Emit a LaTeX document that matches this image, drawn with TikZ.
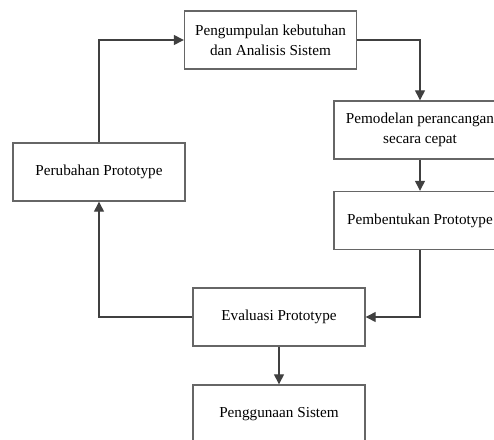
\documentclass[tikz,border=0pt]{standalone}
\usepackage{fontspec}
\setmainfont{Liberation Serif}
\usetikzlibrary{arrows.meta}
\begin{document}
\begin{tikzpicture}[x=1pt,y=-1pt,
  box/.style={draw=black!60,line width=1.4pt,minimum width=172pt,minimum height=58pt,inner sep=0pt,align=center,font=\fontsize{15.2}{20}\selectfont},
  arr/.style={draw=black!75,line width=1.3pt,-{Triangle[length=10pt,width=10pt]}}]
\useasboundingbox (0,0) rectangle (494,439);
\node[box] (A) at (270.5,40) {Pengumpulan kebutuhan\\dan Analisis Sistem};
\node[box] (B) at (420,130) {Pemodelan perancangan\\secara cepat};
\node[box] (C) at (420,220.5) {Pembentukan Prototype};
\node[box] (D) at (99,172) {Perubahan Prototype};
\node[box] (E) at (279,317) {Evaluasi Prototype};
\node[box] (F) at (279,414) {Penggunaan Sistem};
\draw[arr] (A.east) -| (B.north);
\draw[arr] (B) -- (C);
\draw[arr] (C.south) |- (E.east);
\draw[arr] (E.west) -| (D.south);
\draw[arr] (D.north) |- (A.west);
\draw[arr] (E) -- (F);
\end{tikzpicture}
\end{document}
